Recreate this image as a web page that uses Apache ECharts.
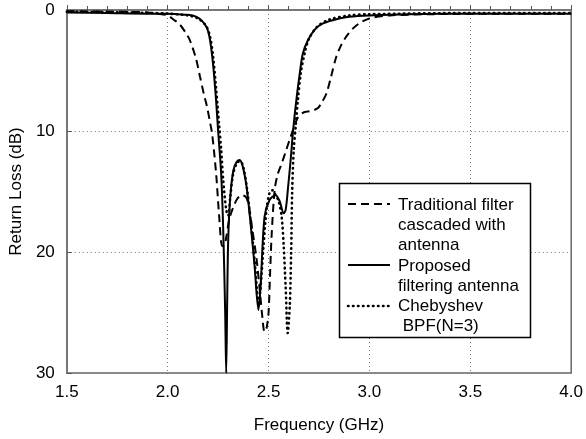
<!DOCTYPE html>
<html>
<head>
<meta charset="utf-8">
<script src="https://cdn.jsdelivr.net/npm/echarts@6/dist/echarts.min.js"></script>
<style>html,body{margin:0;padding:0;background:#fff}#c{width:586px;height:439px}</style>
</head>
<body>
<div id="c"></div>
<script>
// ---- data ----
const xTicks = [1.5, 2.0, 2.5, 3.0, 3.5, 4.0];
const yTicks = [0, 10, 20, 30];

const traditionalFreq = [1.5,1.8,1.9,1.95,2.0,2.03,2.06,2.09,2.11,2.14,2.16,2.18,2.195,2.21,2.22,2.24,2.255,2.27,2.28,2.29,2.305,2.325,2.345,2.367,2.39,2.405,2.42,2.44,2.455,2.47,2.48,2.49,2.5,2.507,2.515,2.53,2.545,2.565,2.585,2.605,2.63,2.645,2.67,2.69,2.72,2.745,2.765,2.787,2.81,2.835,2.86,2.885,2.92,2.95,3.0,3.1,3.3,3.6,4.0];
const traditionalRL   = [0.1,0.15,0.2,0.3,0.45,0.8,1.2,1.9,2.5,4.0,5.5,7.0,8.0,9.3,10.2,13.5,17.0,19.5,19.5,18.8,17.3,16.3,15.6,15.3,15.5,16.5,18.2,20.5,22.9,25.5,26.6,26.3,25.0,22.0,18.7,14.9,13.6,12.7,11.7,10.7,9.5,8.9,8.5,8.4,8.3,8.1,7.6,6.9,5.5,3.9,2.9,2.2,1.5,1.1,0.7,0.45,0.35,0.3,0.3];

const proposedFreq = [1.5,1.7,1.9,2.0,2.05,2.1,2.14,2.17,2.195,2.21,2.225,2.24,2.25,2.265,2.275,2.285,2.29,2.295,2.3,2.31,2.325,2.34,2.355,2.37,2.39,2.41,2.43,2.45,2.46,2.48,2.505,2.535,2.555,2.575,2.585,2.597,2.61,2.622,2.638,2.655,2.67,2.695,2.73,2.77,2.85,2.9,3.0,3.2,3.5,4.0];
const proposedRL   = [0.2,0.25,0.3,0.3,0.35,0.4,0.55,0.9,1.5,2.5,4.5,7.5,10.0,13.5,18.0,25.0,30.0,24.0,19.0,15.5,13.3,12.6,12.4,12.8,14.5,17.5,21.0,24.8,23.0,17.1,15.7,15.3,15.8,16.8,16.5,14.6,12.3,9.9,7.4,5.2,3.6,2.5,1.6,1.1,0.7,0.55,0.45,0.35,0.3,0.3];

const chebyshevFreq = [1.5,1.8,2.0,2.1,2.15,2.19,2.21,2.225,2.24,2.255,2.265,2.275,2.29,2.3,2.31,2.325,2.345,2.36,2.375,2.395,2.415,2.435,2.45,2.46,2.475,2.49,2.505,2.52,2.535,2.55,2.565,2.575,2.585,2.595,2.605,2.612,2.617,2.625,2.635,2.645,2.66,2.68,2.7,2.74,2.8,2.9,3.0,3.5,4.0];
const chebyshevRL   = [0.15,0.2,0.3,0.45,0.7,1.3,2.2,3.8,6.5,9.5,11.5,14.0,16.5,17.0,15.5,13.5,12.6,12.5,13.0,15.0,18.0,21.5,24.2,23.0,19.5,16.5,15.1,14.9,15.3,15.8,17.1,19.5,23.0,26.7,24.5,20.0,15.0,11.5,9.5,7.5,5.2,3.5,2.4,1.4,0.8,0.45,0.35,0.25,0.25];

const legendLines = [
  ['Traditional filter', 'cascaded with', 'antenna'],
  ['Proposed', 'filtering antenna'],
  ['Chebyshev', ' BPF(N=3)']
];

function zip(a, b) { return a.map((v, i) => [v, b[i]]); }

const FONT = 'Liberation Sans, Arial, Helvetica, sans-serif';
const chart = echarts.init(document.getElementById('c'));

// legend drawn as graphic
const lg = [];
lg.push({type:'rect', shape:{x:339.5, y:183.5, width:191, height:154}, style:{fill:'#fff', stroke:'#000', lineWidth:1.5}, z:100});
const sampleY = [204, 265, 306];
const sampleStyles = [
  {lineDash:[8,5], lineWidth:2},
  {lineDash:null, lineWidth:2},
  {lineDash:[0.5,4.5], lineWidth:2.6, lineCap:'round'}
];
sampleY.forEach((y, i) => {
  lg.push({type:'line', shape:{x1:348, y1:y, x2:390, y2:y}, style:Object.assign({stroke:'#000', fill:null}, sampleStyles[i]), z:101});
});
const textY = [[205, 225, 245], [266, 286], [306, 326]];
legendLines.forEach((lines, i) => {
  lines.forEach((t, j) => {
    lg.push({type:'text', x:398, y:textY[i][j], style:{text:t, font:'17px ' + FONT, fill:'#000', verticalAlign:'middle', textAlign:'left'}, z:101});
  });
});

chart.setOption({
  animation: false,
  backgroundColor: '#fff',
  grid: {left:66, right:14, top:10, bottom:66, show:true, borderColor:'#666', borderWidth:1.5, backgroundColor:'transparent'},
  xAxis: {
    type:'value', min:xTicks[0], max:xTicks[xTicks.length-1], interval:0.5,
    name:'Frequency (GHz)', nameLocation:'middle', nameGap:44,
    nameTextStyle:{fontSize:17, fontFamily:FONT, color:'#000'},
    axisLine:{lineStyle:{color:'#777', width:2}},
    axisTick:{inside:true, length:5, lineStyle:{color:'#555', width:1}},
    minorTick:{show:true, splitNumber:5, length:4, lineStyle:{color:'#555', width:1}},
    axisLabel:{fontSize:17, fontFamily:FONT, color:'#000', margin:11, formatter:v => v.toFixed(1)},
    splitLine:{show:true, lineStyle:{type:[1,3], color:'#777', width:1}}
  },
  yAxis: {
    type:'value', inverse:true, min:yTicks[0], max:yTicks[yTicks.length-1], interval:10,
    name:'Return Loss (dB)', nameLocation:'middle', nameGap:38, nameRotate:90,
    nameTextStyle:{fontSize:17, fontFamily:FONT, color:'#000'},
    axisLine:{lineStyle:{color:'#777', width:2}},
    axisTick:{inside:true, length:5, lineStyle:{color:'#555', width:1}},
    axisLabel:{fontSize:17, fontFamily:FONT, color:'#000', margin:12},
    splitLine:{show:true, lineStyle:{type:[1,3], color:'#777', width:1}}
  },
  series: [
    {name:'Traditional filter cascaded with antenna', type:'line', data:zip(traditionalFreq, traditionalRL), showSymbol:false, smooth:0.3,
     lineStyle:{color:'#000', width:2, type:[8,5]}, z:3},
    {name:'Proposed filtering antenna', type:'line', data:zip(proposedFreq, proposedRL), showSymbol:false, smooth:0.3,
     lineStyle:{color:'#000', width:2, type:'solid'}, z:4},
    {name:'Chebyshev BPF(N=3)', type:'line', data:zip(chebyshevFreq, chebyshevRL), showSymbol:false, smooth:0.3,
     lineStyle:{color:'#000', width:2.6, type:[0.5,4.5], cap:'round'}, z:5}
  ],
  graphic: lg
});
</script>
</body>
</html>
